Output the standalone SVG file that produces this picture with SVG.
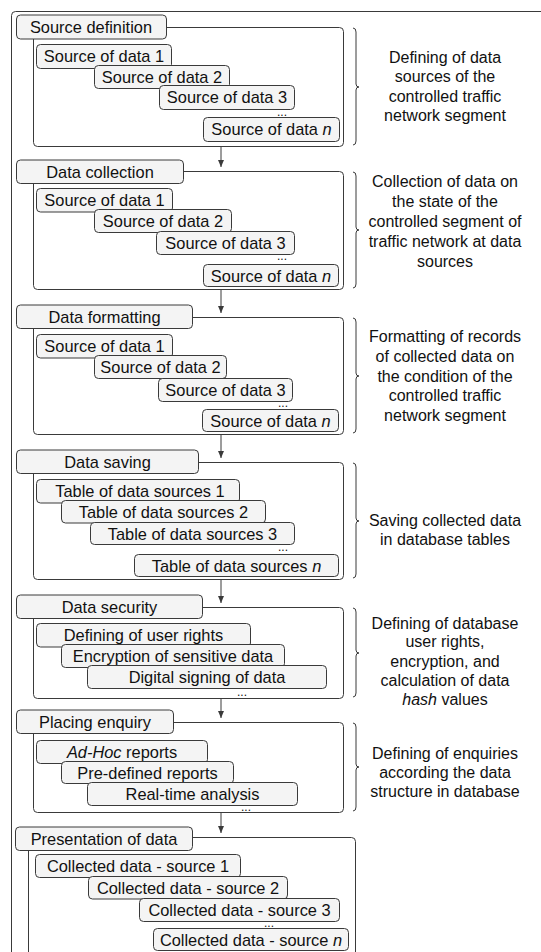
<svg xmlns="http://www.w3.org/2000/svg" width="541" height="952" viewBox="0 0 541 952">
<defs>
<style>
text{font-family:"Liberation Sans",Arial,sans-serif;font-size:16.4px;fill:#111}
.b{fill:#f4f4f4;stroke:#3a3a3a;stroke-width:1}
.c{fill:#fff;stroke:#3a3a3a;stroke-width:1}
.m{text-anchor:middle}
.t{font-size:16px}
.d{font-size:12px;text-anchor:middle}
.br{fill:none;stroke:#3a3a3a;stroke-width:1}
.ar{stroke:#3a3a3a;stroke-width:1;fill:none}
.i{font-style:italic}
</style>
<marker id="ah" viewBox="0 0 7 6" refX="7" refY="3" markerWidth="7" markerHeight="6" markerUnits="userSpaceOnUse" orient="auto">
<path d="M0,0 L7,3 L0,6 z" fill="#3a3a3a"/>
</marker>
</defs>
<rect id="frame" x="11.5" y="11.5" width="560" height="980" rx="4" fill="none" stroke="#3a3a3a"/>

<g id="s1">
<rect class="c" x="33.5" y="27.5" width="310" height="119" rx="4"/>
<rect class="b" x="16.5" y="15" width="150" height="24" rx="4"/>
<text class="m" x="91" y="32.5">Source definition</text>
<rect class="b" x="36.5" y="44.5" width="135" height="24" rx="4"/>
<text class="m" x="104" y="62">Source of data 1</text>
<rect class="b" x="94.5" y="65.5" width="135" height="23" rx="4"/>
<text class="m" x="162" y="82.5">Source of data 2</text>
<rect class="b" x="159.5" y="85.5" width="135" height="24" rx="4"/>
<text class="m" x="227" y="103">Source of data 3</text>
<text class="d" x="282" y="116">...</text>
<rect class="b" x="203.5" y="117.5" width="136" height="24" rx="4"/>
<text class="m" x="271.5" y="135">Source of data <tspan class="i">n</tspan></text>
<path class="br" d="M353,28 Q356,28 356,32 L356,84 Q356,87 359,87 Q356,87 356,90 L356,141 Q356,145 353,145"/>
<text class="m t" x="445" y="63">Defining of data</text>
<text class="m t" x="445" y="82">sources of the</text>
<text class="m t" x="445" y="101.5">controlled traffic</text>
<text class="m t" x="445" y="121">network segment</text>
</g>

<g id="s2">
<rect class="c" x="33.5" y="171.5" width="310" height="118" rx="4"/>
<rect class="b" x="16.5" y="160" width="167" height="23.5" rx="4"/>
<text class="m" x="100" y="177.5">Data collection</text>
<rect class="b" x="36.5" y="188.5" width="136" height="23.5" rx="4"/>
<text class="m" x="104.5" y="206">Source of data 1</text>
<rect class="b" x="94.5" y="209.5" width="137" height="23" rx="4"/>
<text class="m" x="163" y="227">Source of data 2</text>
<rect class="b" x="156.5" y="231.5" width="138" height="23" rx="4"/>
<text class="m" x="225.5" y="249">Source of data 3</text>
<text class="d" x="282" y="260">...</text>
<rect class="b" x="203.5" y="264.5" width="135" height="22" rx="4"/>
<text class="m" x="271" y="281.5">Source of data <tspan class="i">n</tspan></text>
<path class="br" d="M353,172 Q356,172 356,176 L356,227 Q356,230 359,230 Q356,230 356,233 L356,284 Q356,288 353,288"/>
<text class="m t" x="445" y="187">Collection of data on</text>
<text class="m t" x="445" y="207">the state of the</text>
<text class="m t" x="445" y="227">controlled segment of</text>
<text class="m t" x="445" y="247">traffic network at data</text>
<text class="m t" x="445" y="266.5">sources</text>
</g>

<g id="s3">
<rect class="c" x="33.5" y="317.5" width="310" height="117" rx="4"/>
<rect class="b" x="16.5" y="305" width="176" height="23.5" rx="4"/>
<text class="m" x="104.5" y="322.5">Data formatting</text>
<rect class="b" x="36.5" y="334.5" width="136" height="23.5" rx="4"/>
<text class="m" x="104.5" y="352">Source of data 1</text>
<rect class="b" x="94.5" y="355.5" width="132" height="23" rx="4"/>
<text class="m" x="160.5" y="373">Source of data 2</text>
<rect class="b" x="158.5" y="378.5" width="134" height="23" rx="4"/>
<text class="m" x="225.5" y="396">Source of data 3</text>
<text class="d" x="283" y="407">...</text>
<rect class="b" x="202.5" y="409.5" width="136" height="22" rx="4"/>
<text class="m" x="270.5" y="426.5">Source of data <tspan class="i">n</tspan></text>
<path class="br" d="M353,318 Q356,318 356,322 L356,373 Q356,376 359,376 Q356,376 356,379 L356,429 Q356,433 353,433"/>
<text class="m t" x="445" y="342">Formatting of records</text>
<text class="m t" x="445" y="362">of collected data on</text>
<text class="m t" x="445" y="381.5">the condition of the</text>
<text class="m t" x="445" y="400.5">controlled traffic</text>
<text class="m t" x="445" y="420.5">network segment</text>
</g>

<g id="s4">
<rect class="c" x="33.5" y="462.5" width="310" height="117" rx="4"/>
<rect class="b" x="16.5" y="450" width="182" height="23.5" rx="4"/>
<text class="m" x="107.5" y="467.5">Data saving</text>
<rect class="b" x="36.5" y="479.5" width="203" height="23.5" rx="4"/>
<text class="m" x="140" y="497">Table of data sources 1</text>
<rect class="b" x="61.5" y="500.5" width="204" height="22.5" rx="4"/>
<text class="m" x="163.5" y="518">Table of data sources 2</text>
<rect class="b" x="90.5" y="522.5" width="204" height="22" rx="4"/>
<text class="m" x="192.5" y="539.5">Table of data sources 3</text>
<text class="d" x="283" y="551">...</text>
<rect class="b" x="134.5" y="554.5" width="204" height="22" rx="4"/>
<text class="m" x="236.5" y="571.5">Table of data sources <tspan class="i">n</tspan></text>
<path class="br" d="M353,463 Q356,463 356,467 L356,518 Q356,521 359,521 Q356,521 356,524 L356,574 Q356,578 353,578"/>
<text class="m t" x="445" y="525.5">Saving collected data</text>
<text class="m t" x="445" y="544.5">in database tables</text>
</g>

<g id="s5">
<rect class="c" x="33.5" y="607.5" width="310" height="91" rx="4"/>
<rect class="b" x="16.5" y="595" width="186" height="23.5" rx="4"/>
<text class="m" x="109.5" y="612.5">Data security</text>
<rect class="b" x="36.5" y="623.5" width="214" height="23.5" rx="4"/>
<text class="m" x="143.5" y="641">Defining of user rights</text>
<rect class="b" x="61.5" y="644.5" width="223" height="23" rx="4"/>
<text class="m" x="173" y="662">Encryption of sensitive data</text>
<rect class="b" x="87.5" y="665.5" width="239" height="23" rx="4"/>
<text class="m" x="207" y="683">Digital signing of data</text>
<text class="d" x="242" y="696">...</text>
<path class="br" d="M353,608 Q356,608 356,612 L356,650 Q356,653 359,653 Q356,653 356,656 L356,693 Q356,697 353,697"/>
<text class="m t" x="445" y="628.5">Defining of database</text>
<text class="m t" x="445" y="647">user rights,</text>
<text class="m t" x="445" y="666.5">encryption, and</text>
<text class="m t" x="445" y="685.5">calculation of data</text>
<text class="m t" x="445" y="704.5"><tspan class="i">hash</tspan> values</text>
</g>

<g id="s6">
<rect class="c" x="33.5" y="722.5" width="310" height="90" rx="4"/>
<rect class="b" x="16.5" y="710" width="157" height="23.5" rx="4"/>
<text class="m" x="95" y="727.5">Placing enquiry</text>
<rect class="b" x="36.5" y="740.5" width="171" height="23" rx="4"/>
<text class="m" x="122" y="758"><tspan class="i">Ad-Hoc</tspan> reports</text>
<rect class="b" x="61.5" y="761.5" width="172" height="22" rx="4"/>
<text class="m" x="147.5" y="778.5">Pre-defined reports</text>
<rect class="b" x="87.5" y="782.5" width="210" height="23" rx="4"/>
<text class="m" x="192.5" y="800">Real-time analysis</text>
<text class="d" x="246" y="811">...</text>
<path class="br" d="M353,723 Q356,723 356,727 L356,764 Q356,767 359,767 Q356,767 356,770 L356,807 Q356,811 353,811"/>
<text class="m t" x="445" y="758.5">Defining of enquiries</text>
<text class="m t" x="445" y="778">according the data</text>
<text class="m t" x="445" y="796.5">structure in database</text>
</g>

<g id="s7">
<rect class="c" x="28.5" y="837.5" width="327" height="140" rx="4"/>
<rect class="b" x="15.5" y="827" width="177" height="23.5" rx="4"/>
<text class="m" x="104" y="844.5">Presentation of data</text>
<rect class="b" x="35.5" y="854.5" width="205" height="23" rx="4"/>
<text class="m" x="138" y="872">Collected data - source 1</text>
<rect class="b" x="88.5" y="876.5" width="199" height="22.5" rx="4"/>
<text class="m" x="188" y="894">Collected data - source 2</text>
<rect class="b" x="139.5" y="898.5" width="200" height="23" rx="4"/>
<text class="m" x="239.5" y="916">Collected data - source 3</text>
<text class="d" x="269" y="927">...</text>
<rect class="b" x="153.5" y="928.5" width="195" height="22" rx="4"/>
<text class="m" x="251" y="945.5">Collected data - source <tspan class="i">n</tspan></text>
</g>

<g id="connectors">
<line class="ar" x1="221" y1="146.5" x2="221" y2="167" marker-end="url(#ah)"/>
<line class="ar" x1="221" y1="289.5" x2="221" y2="313" marker-end="url(#ah)"/>
<line class="ar" x1="221" y1="434.5" x2="221" y2="458" marker-end="url(#ah)"/>
<line class="ar" x1="221" y1="579.5" x2="221" y2="603" marker-end="url(#ah)"/>
<line class="ar" x1="221" y1="698.5" x2="221" y2="718" marker-end="url(#ah)"/>
<line class="ar" x1="221" y1="812.5" x2="221" y2="833" marker-end="url(#ah)"/>
</g>
</svg>
